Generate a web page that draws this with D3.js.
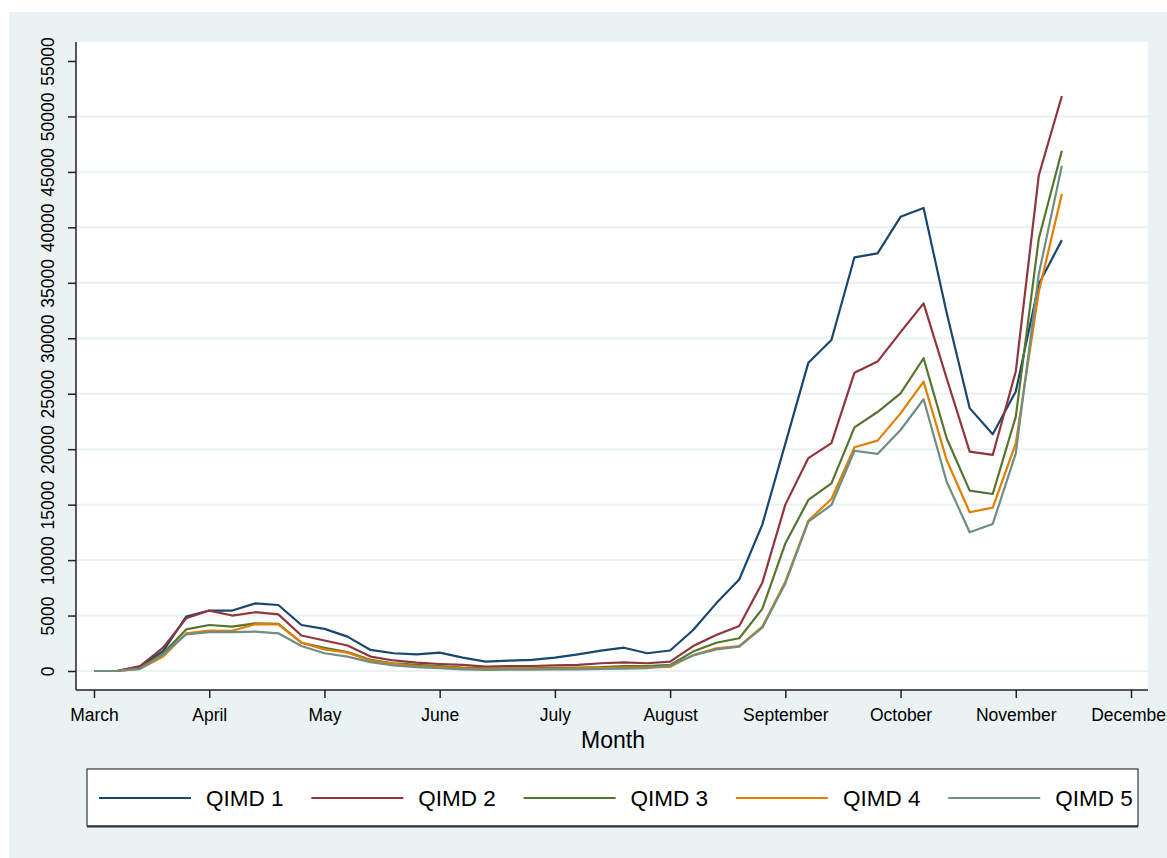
<!DOCTYPE html>
<html>
<head>
<meta charset="utf-8">
<script src="https://cdn.jsdelivr.net/npm/d3@7"></script>
<style>
  body { margin: 0; background: #fff; }
  text { font-family: "Liberation Sans", Arial, sans-serif; }
</style>
</head>
<body>
<div id="chart"></div>
<script>
// weekly positions, in months (3 = March ... 12 = December)
var weeks = [3.0, 3.2, 3.4, 3.6, 3.8, 4.0, 4.2, 4.4, 4.6, 4.8,
             5.0, 5.2, 5.4, 5.6, 5.8, 6.0, 6.2, 6.4, 6.6, 6.8,
             7.0, 7.2, 7.4, 7.6, 7.8, 8.0, 8.2, 8.4, 8.6, 8.8,
             9.0, 9.2, 9.4, 9.6, 9.8, 10.0, 10.2, 10.4, 10.6, 10.8,
             11.0, 11.2, 11.4];

var qimd1 = [0, 0, 400, 1800, 4900, 5450, 5450, 6100, 5950, 4150,
             3800, 3100, 1900, 1600, 1500, 1650, 1200, 850, 930, 1000,
             1200, 1500, 1830, 2100, 1600, 1850, 3700, 6100, 8250, 13200,
             20500, 27800, 29850, 37300, 37650, 40950, 41750, 32300, 23700, 21350,
             25200, 34900, 38850];
var qimd2 = [0, 0, 450, 2100, 4750, 5450, 5000, 5300, 5100, 3200,
             2750, 2300, 1300, 950, 750, 630, 550, 400, 450, 450,
             500, 550, 700, 780, 700, 850, 2250, 3250, 4050, 7950,
             15000, 19200, 20550, 26900, 27900, 30550, 33150, 26400, 19780, 19480,
             27000, 44700, 51850];
var qimd3 = [0, 0, 250, 1600, 3750, 4150, 4000, 4300, 4250, 2550,
             2100, 1700, 1000, 700, 550, 450, 300, 250, 250, 250,
             280, 300, 350, 450, 450, 550, 1750, 2550, 2950, 5600,
             11500, 15420, 16920, 21970, 23350, 25040, 28200, 20980, 16260, 15960,
             22930, 39000, 46900];
var qimd4 = [0, 0, 200, 1300, 3400, 3650, 3630, 4220, 4200, 2550,
             1950, 1650, 950, 650, 450, 350, 250, 200, 200, 200,
             220, 230, 260, 300, 320, 380, 1430, 2050, 2250, 4000,
             8050, 13550, 15510, 20170, 20770, 23230, 26090, 19030, 14310, 14730,
             20530, 34200, 43000];
var qimd5 = [0, 0, 200, 1500, 3300, 3500, 3500, 3550, 3400, 2250,
             1600, 1300, 800, 500, 350, 250, 150, 100, 120, 120,
             140, 150, 180, 220, 250, 500, 1400, 1950, 2200, 3900,
             7900, 13460, 14970, 19860, 19570, 21730, 24500, 17070, 12510, 13260,
             19630, 35800, 45560];

var seriesNames = ["QIMD 1", "QIMD 2", "QIMD 3", "QIMD 4", "QIMD 5"];
var seriesColors = ["#1a476f", "#90353b", "#55752f", "#e37e00", "#6e8e84"];
var monthTicks = [3, 4, 5, 6, 7, 8, 9, 10, 11, 12];
var monthLabels = ["March", "April", "May", "June", "July", "August",
                   "September", "October", "November", "December"];
var yTicks = [0, 5000, 10000, 15000, 20000, 25000, 30000, 35000, 40000, 45000, 50000, 55000];

var series = [qimd1, qimd2, qimd3, qimd4, qimd5].map(function(vals, k) {
    return { name: seriesNames[k], color: seriesColors[k], values: vals };
});

var W = 1167, H = 858;
var bg = "#eaf2f3";

var svg = d3.select("#chart").append("svg")
    .attr("width", W)
    .attr("height", H);

// graph region
svg.append("rect")
    .attr("x", 9).attr("y", 12)
    .attr("width", W - 9).attr("height", H - 12)
    .attr("fill", bg);

// plot region
var plot = { left: 76, right: 1148, top: 42, bottom: 690 };
svg.append("rect")
    .attr("x", plot.left).attr("y", plot.top)
    .attr("width", plot.right - plot.left)
    .attr("height", plot.bottom - plot.top)
    .attr("fill", "#fff");

var x = d3.scaleLinear().domain([3, 12]).range([94, 1131]);
var y = d3.scaleLinear().domain([0, 55000]).range([671, 61]);

// gridlines
svg.append("g")
    .selectAll("line")
    .data(yTicks.filter(function(d) { return d < 55000; }))
    .enter()
    .append("line")
    .attr("x1", plot.left + 1).attr("x2", plot.right)
    .attr("y1", function(d) { return y(d); })
    .attr("y2", function(d) { return y(d); })
    .attr("stroke", bg)
    .attr("stroke-width", 2);

// y axis
var yAxis = svg.append("g")
    .attr("transform", "translate(" + plot.left + ",0)")
    .call(d3.axisLeft(y).tickValues(yTicks).tickSize(8).tickSizeOuter(0).tickFormat(d3.format("d")));
yAxis.select("path.domain").remove();
yAxis.append("line")
    .attr("x1", 0).attr("x2", 0)
    .attr("y1", plot.top).attr("y2", plot.bottom)
    .attr("stroke", "#222").attr("stroke-width", 1.5);
yAxis.selectAll(".tick line").attr("stroke", "#222").attr("stroke-width", 1.5);
yAxis.selectAll(".tick text")
    .attr("transform", "rotate(-90)")
    .attr("x", 0).attr("y", -28)
    .attr("dy", "0.35em")
    .attr("text-anchor", "middle")
    .attr("fill", "#000")
    .style("font-size", "17.5px");

// x axis
var xAxis = svg.append("g")
    .attr("transform", "translate(0," + plot.bottom + ")")
    .call(d3.axisBottom(x).tickValues(monthTicks).tickSize(8).tickSizeOuter(0)
        .tickFormat(function(d, i) { return monthLabels[i]; }));
xAxis.select("path.domain").remove();
xAxis.append("line")
    .attr("x1", plot.left).attr("x2", plot.right)
    .attr("y1", 0).attr("y2", 0)
    .attr("stroke", "#222").attr("stroke-width", 1.5);
xAxis.selectAll(".tick line").attr("stroke", "#222").attr("stroke-width", 1.5);
xAxis.selectAll(".tick text")
    .attr("y", 19)
    .attr("dy", "0.71em")
    .attr("fill", "#000")
    .style("font-size", "17.5px");

svg.append("text")
    .attr("x", 613).attr("y", 748)
    .attr("text-anchor", "middle")
    .style("font-size", "23px")
    .text("Month");

// lines
var line = d3.line()
    .x(function(d, i) { return x(weeks[i]); })
    .y(function(d) { return y(d); });

svg.append("g")
    .selectAll("path")
    .data(series)
    .enter()
    .append("path")
    .attr("d", function(d) { return line(d.values); })
    .attr("fill", "none")
    .attr("stroke", function(d) { return d.color; })
    .attr("stroke-width", 2.2)
    .attr("stroke-linejoin", "round");

// legend
var lg = svg.append("g");
lg.append("rect")
    .attr("x", 87).attr("y", 769)
    .attr("width", 1051).attr("height", 57)
    .attr("fill", "#fff")
    .attr("stroke", "#111").attr("stroke-width", 1);
lg.append("line")
    .attr("x1", 87).attr("x2", 1138)
    .attr("y1", 826.5).attr("y2", 826.5)
    .attr("stroke", "#333").attr("stroke-width", 2);

var item = lg.selectAll("g.item")
    .data(series)
    .enter()
    .append("g")
    .attr("class", "item")
    .attr("transform", function(d, i) { return "translate(" + (99 + i * 212.3) + ",798)"; });
item.append("line")
    .attr("x1", 0).attr("x2", 92)
    .attr("y1", 0).attr("y2", 0)
    .attr("stroke", function(d) { return d.color; })
    .attr("stroke-width", 2.2);
item.append("text")
    .attr("x", 107).attr("y", 0)
    .attr("dy", "0.36em")
    .style("font-size", "22.5px")
    .text(function(d) { return d.name; });
</script>
</body>
</html>
